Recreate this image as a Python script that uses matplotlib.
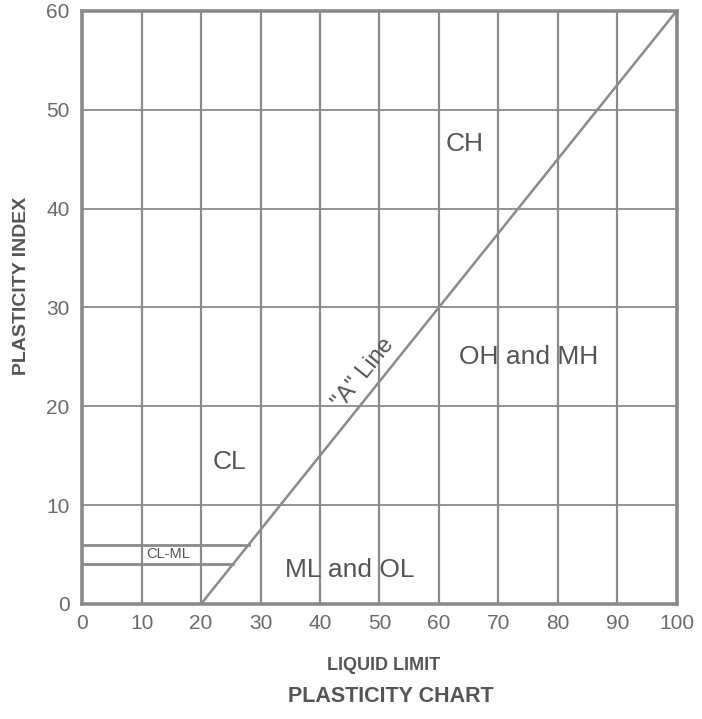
import matplotlib
matplotlib.use("Agg")
import matplotlib.pyplot as plt
import numpy as np

plt.rcParams['font.family'] = ['Liberation Sans', 'DejaVu Sans']

# chart data
x_ticks = [0, 10, 20, 30, 40, 50, 60, 70, 80, 90, 100]
y_ticks = [0, 10, 20, 30, 40, 50, 60]
a_line_ll = [20, 100]
a_line_pi = [0, 60]
clml_low = 4
clml_high = 6
zones = ["CH", "CL", "OH and MH", "ML and OL"]
zone_x = [64.3, 24.8, 75.1, 45]
zone_y = [46.5, 14.4, 25, 3.4]

gray = "#8a8a8a"
text_gray = "#555555"
tick_gray = "#6a6a6a"

fig = plt.figure(figsize=(7.02, 7.19), dpi=100)
ax = fig.add_axes([0.117, 0.160, 0.847, 0.825])
ax.set_xlim(0, 100)
ax.set_ylim(0, 60)

# grid
for x in x_ticks[1:-1]:
    ax.axvline(x, color=gray, lw=1.6, zorder=1)
for y in y_ticks[1:-1]:
    ax.axhline(y, color=gray, lw=1.3, zorder=1)

# A line
ax.plot(a_line_ll, a_line_pi, color=gray, lw=1.8, zorder=2)
slope = (a_line_pi[1] - a_line_pi[0]) / (a_line_ll[1] - a_line_ll[0])

# CL-ML band, ends at the A line
for pi in [clml_low, clml_high]:
    ll_end = a_line_ll[0] + pi / slope
    ax.plot([0, ll_end], [pi, pi], color=gray, lw=2.0, zorder=2)
ax.text(14.4, (clml_low + clml_high) / 2 + 0.1, "CL-ML", fontsize=10.5, color=text_gray,
        ha="center", va="center")

for name, zx, zy in zip(zones, zone_x, zone_y):
    ax.text(zx, zy, name, fontsize=19, color=text_gray, ha="center", va="center")

ax.text(47.4, 23.3, '"A" Line', fontsize=17, color=text_gray, ha="center", va="center",
        rotation=np.degrees(np.arctan(slope)), rotation_mode="anchor",
        transform_rotates_text=True)

for s in ax.spines.values():
    s.set_color(gray)
    s.set_linewidth(2.6)

ax.set_xticks(x_ticks)
ax.set_yticks(y_ticks)
ax.tick_params(length=0, labelsize=15, colors=tick_gray)
ax.tick_params(axis="y", pad=9)
ax.tick_params(axis="x", pad=7)

fig.text(0.031, 1 - 286 / 719, "PLASTICITY INDEX", fontsize=14, color=text_gray,
         fontweight="bold", rotation=90, ha="center", va="center")
fig.text(384 / 702, 1 - 665 / 719, "LIQUID LIMIT", fontsize=13, color=text_gray,
         fontweight="bold", ha="center", va="center")
fig.text(391 / 702, 1 - 696 / 719, "PLASTICITY CHART", fontsize=15.5, color=text_gray,
         fontweight="bold", ha="center", va="center")

fig.savefig("out.png", dpi=100)
